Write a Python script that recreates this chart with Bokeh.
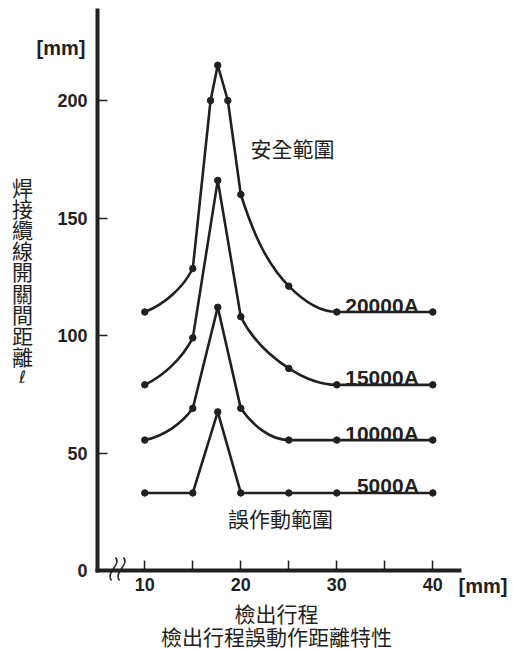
import math
from bokeh.plotting import figure
from bokeh.models import Range1d, FixedTicker, Label
from bokeh.core.properties import value
from bokeh.embed import file_html
from bokeh.resources import INLINE

# ---------------- data ----------------
x_5000 = [10, 15, 17.6, 20, 25, 30, 40]
y_5000 = [33, 33, 67.5, 33, 33, 33, 33]
x_10000 = [10, 15, 17.6, 20, 25, 30, 40]
y_10000 = [55.5, 69, 112, 69, 55.5, 55.5, 55.5]
x_15000 = [10, 15, 17.6, 20, 25, 30, 40]
y_15000 = [79, 99, 166, 108, 86, 79, 79]
x_20000 = [10, 15, 16.85, 17.6, 18.65, 20, 25, 30, 40]
y_20000 = [110, 128.5, 200, 215, 200, 160, 121, 110, 110]
series_names = ["5000A", "10000A", "15000A", "20000A"]

y_ticks = [0, 50, 100, 150, 200]
x_ticks = [10, 15, 20, 25, 30, 35, 40]
x_tick_text = ["10", "", "20", "", "30", "", "40"]

y_title = ["焊", "接", "纜", "線", "開", "關", "間", "距", "離"]
y_title_symbol = "ℓ"
safe_text = "安全範圍"
false_text = "誤作動範圍"
x_title_1 = "檢出行程"
x_title_2 = "檢出行程誤動作距離特性"
unit_text = "[mm]"

# ---------------- layout ----------------
W, H = 514, 649
XPX, YPX = 9.6, 2.35          # pixels per data unit
X_REF_PX, Y_REF_PX = 144.3, 570.0   # pixel position of x=10 and y=0

INK = "#231f20"
NUM_FONT = "Liberation Sans"
CJK_FONT = "Noto Sans CJK TC"


def dx(px):
    return 10 + (px - X_REF_PX) / XPX


def dy(py):
    return (Y_REF_PX - py) / YPX


AX_LEFT, AX_RIGHT, AX_TOP = dx(97), dx(459), dy(9.5)

p = figure(width=W, height=H, output_backend="svg", toolbar_location=None,
           x_range=Range1d(dx(0), dx(W)), y_range=Range1d(dy(H), dy(0)),
           min_border_left=0, min_border_right=0,
           min_border_top=0, min_border_bottom=0)
p.outline_line_color = None
p.grid.grid_line_color = None
p.background_fill_color = "white"
p.border_fill_color = "white"

p.xaxis.fixed_location = 0
p.xaxis.bounds = (AX_LEFT, AX_RIGHT)
p.yaxis.fixed_location = AX_LEFT
p.yaxis.bounds = (0, AX_TOP)

for ax in (p.xaxis[0], p.yaxis[0]):
    ax.axis_line_width = 4
    ax.axis_line_color = INK
    ax.axis_line_cap = "square"
    ax.major_tick_line_color = INK
    ax.major_tick_line_width = 1.5
    ax.major_tick_in = 10
    ax.major_tick_out = 0
    ax.minor_tick_line_color = None
    ax.major_label_text_font = NUM_FONT
    ax.major_label_text_font_size = "18px"
    ax.major_label_text_font_style = "bold"
    ax.major_label_text_color = INK

p.yaxis.ticker = FixedTicker(ticks=y_ticks)
p.yaxis.major_label_standoff = 10
p.xaxis.ticker = FixedTicker(ticks=x_ticks)
p.xaxis.major_label_overrides = {t: s for t, s in zip(x_ticks, x_tick_text)}
p.xaxis.major_label_standoff = 7

STEEP = 2.5


def unit(vx, vy):
    L = math.hypot(vx, vy)
    return vx / L, vy / L


def segments(xs, ys):
    n = len(xs)
    P = [(x * XPX, y * YPX) for x, y in zip(xs, ys)]
    ch = [(P[i + 1][0] - P[i][0], P[i + 1][1] - P[i][1]) for i in range(n - 1)]

    def tan(i):
        ux1, uy1 = unit(*ch[i - 1])
        ux2, uy2 = unit(*ch[i])
        if ch[i - 1][1] == 0 or ch[i][1] == 0:
            return 1.0, 0.0
        return unit(ux1 + ux2, uy1 + uy2)

    def reflect(t, c):
        ux, uy = unit(*c)
        d = t[0] * ux + t[1] * uy
        return 2 * d * ux - t[0], 2 * d * uy - t[1]

    out = {k: [] for k in ("x0", "y0", "x1", "y1", "cx0", "cy0", "cx1", "cy1")}
    for i in range(n - 1):
        vx, vy = ch[i]
        curved = vy != 0 and abs(vy / vx) < STEEP
        a, b = P[i], P[i + 1]
        if curved:
            L = math.hypot(vx, vy)
            t0 = tan(i) if i > 0 else None
            t1 = tan(i + 1) if i + 1 < n - 1 else None
            if t0 is None and t1 is None:
                t0 = t1 = unit(vx, vy)
            elif t0 is None:
                t0 = reflect(t1, (vx, vy))
            elif t1 is None:
                t1 = reflect(t0, (vx, vy))
            c0 = (a[0] + t0[0] * L / 3, a[1] + t0[1] * L / 3)
            c1 = (b[0] - t1[0] * L / 3, b[1] - t1[1] * L / 3)
        else:
            c0, c1 = a, b
        out["x0"].append(a[0] / XPX); out["y0"].append(a[1] / YPX)
        out["x1"].append(b[0] / XPX); out["y1"].append(b[1] / YPX)
        out["cx0"].append(c0[0] / XPX); out["cy0"].append(c0[1] / YPX)
        out["cx1"].append(c1[0] / XPX); out["cy1"].append(c1[1] / YPX)
    return out


all_series = [(x_5000, y_5000), (x_10000, y_10000), (x_15000, y_15000), (x_20000, y_20000)]
for (xs, ys), name in zip(all_series, series_names):
    s = segments(xs, ys)
    p.bezier(x0=s["x0"], y0=s["y0"], x1=s["x1"], y1=s["y1"],
             cx0=s["cx0"], cy0=s["cy0"], cx1=s["cx1"], cy1=s["cy1"],
             line_color=INK, line_width=2.6, line_cap="round")
    p.scatter(xs, ys, size=6.5, color=INK)
    p.text(x=[xs[-1]], y=[ys[-1]], text=[name], x_offset=-14, y_offset=-7,
           text_align="right", text_baseline="alphabetic",
           text_font=value(NUM_FONT), text_font_size="21px",
           text_font_style="bold", text_color=INK)

# axis break mark (two wavy strokes across the x axis)
for bpx in (113, 121):
    bx = dx(bpx)
    p.bezier(x0=[bx + 0.2], y0=[dy(557)], x1=[bx - 0.2], y1=[dy(580)],
             cx0=[bx + 0.9], cy0=[dy(564)], cx1=[bx - 0.9], cy1=[dy(572)],
             line_color=INK, line_width=1.5)


def add_label(px, py, text, font, align="center", size="21px", style="normal"):
    p.add_layout(Label(x=dx(px), y=dy(py), text=text, text_align=align,
                       text_baseline="middle", text_font=font, text_font_size=size,
                       text_font_style=style, text_color=INK))


add_label(292, 147.5, safe_text, CJK_FONT)
add_label(280, 517, false_text, CJK_FONT)
add_label(85, 47, unit_text, NUM_FONT, "right", "20px", "bold")
add_label(458, 585, unit_text, NUM_FONT, "left", "20px", "bold")
add_label(276, 612, x_title_1, CJK_FONT)
add_label(276, 635, x_title_2, CJK_FONT)
for i, ch in enumerate(y_title):
    add_label(22, 186 + 21.2 * i, ch, CJK_FONT)
add_label(22, 186 + 21.2 * len(y_title), y_title_symbol, "DejaVu Sans", size="17px")

open("out.html", "w").write(file_html(p, INLINE))
